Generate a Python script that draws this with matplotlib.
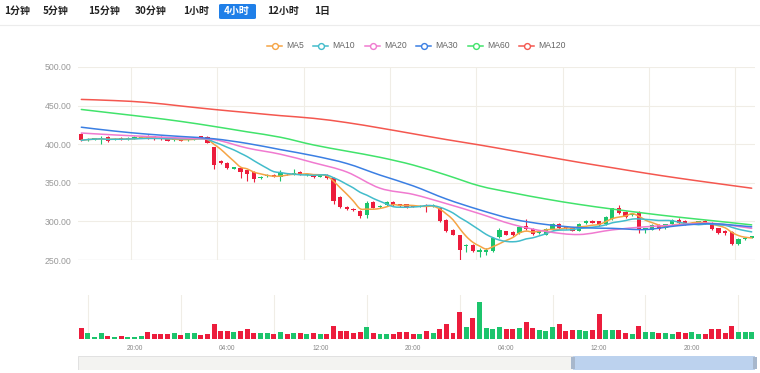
import matplotlib
matplotlib.use('Agg')
import matplotlib.pyplot as plt
import numpy as np
import pandas as pd
from matplotlib.patches import Rectangle, FancyBboxPatch, PathPatch
from matplotlib.path import Path
from matplotlib.lines import Line2D

plt.rcParams['font.family'] = ['Liberation Sans', 'DejaVu Sans']

W, H = 760, 373

# toolbar
periods = ['1分钟', '5分钟', '15分钟', '30分钟', '1小时', '4小时', '12小时', '1日']
active_period = '4小时'

# 4h candles
opens = [413, 405, 406, 407, 409.5, 405.5, 408, 407, 408, 408.5,
         411, 410, 409.5, 407.5, 405, 407.5, 405, 406.5, 410.5, 409.5,
         396, 378, 376, 368.5, 369, 366, 364, 356, 358.5, 360,
         358, 362.5, 361, 364, 360, 361.5, 358, 360.5, 356, 332,
         319, 316, 314, 308, 324.5, 318.5, 321, 325.5, 322, 322.5,
         320.5, 319, 321, 319.5, 318, 302, 289, 282, 267.5, 270,
         261, 261, 262, 280, 287, 286, 285, 294.5, 290, 285,
         283, 290, 297, 293, 292, 288, 298, 301, 300, 296,
         303, 317, 312.5, 308.5, 312, 289, 289.5, 295, 291, 296,
         302, 301, 297, 298.5, 301, 298.5, 291, 288, 286.5, 271,
         277.5, 278.5]
closes = [405, 407, 407.5, 408, 404, 407, 406.5, 408.5, 409, 409.5,
          407.5, 407, 406.5, 404.5, 407, 404.5, 407, 408.5, 408.5, 402,
          373, 375.5, 369, 370, 364, 361.5, 354.5, 358, 360.5, 358,
          362.5, 361, 363, 360.5, 361.5, 357, 360, 356, 326, 319,
          315.5, 314.5, 307, 324, 318, 320.5, 325, 321, 319.5, 318.5,
          319, 320.5, 319.5, 321, 300, 287, 283, 263, 269.5, 262,
          263, 263.5, 278, 289, 283, 282, 293, 290, 283.5, 288,
          290, 297, 291, 291, 288, 297, 301, 298.5, 295.5, 306,
          317, 311, 306, 310, 290, 291, 295, 290.5, 296, 302,
          298, 296, 298.5, 300, 298, 290, 285, 285.5, 271, 277,
          279, 280.5]
highs = [414, 408, 408, 410, 410, 408, 409, 409, 410, 410.5,
         412, 411, 410, 408, 408, 408, 408, 409, 411, 410,
         397, 379, 377, 371, 370, 367, 365, 359, 361, 361,
         366, 363, 368, 365, 362, 362, 361, 361, 357, 333,
         320, 317, 315, 327, 327, 321, 326, 326, 323, 323,
         321, 321, 322, 322, 319, 303, 290, 283, 271, 271,
         266, 265, 280, 292, 288, 287, 294, 303, 291, 289,
         291, 298, 298, 294, 293, 298, 302, 302, 301, 307,
         318, 321, 313, 311, 313, 292, 296, 296, 297, 303,
         304, 302, 299, 301, 302, 299, 292, 289, 287, 278,
         280, 281]
lows = [404, 404, 405, 400, 403, 405, 405, 406, 407, 408,
        407, 406, 405, 404, 404, 404, 404.5, 406, 408, 401,
        368, 374, 368, 368, 356, 352, 351, 355, 358, 357,
        352, 360, 360, 360, 359, 356, 357, 355, 323, 318,
        314.5, 313.5, 304, 304, 317, 318, 320, 320, 319, 318,
        318.5, 318.5, 312, 319, 299, 286, 282, 249, 261, 261,
        254, 256, 261, 279, 282, 281, 284, 289, 282.5, 284,
        282, 289, 290, 290, 287, 287, 297, 297.5, 294.5, 295,
        302, 310, 305, 307, 285, 285, 288.5, 289.5, 290, 295,
        297, 295, 296, 297.5, 297, 289, 284, 283, 270, 270,
        276.5, 278]
volumes = [1100, 600, 270, 600, 330, 270, 370, 270, 270, 370,
           770, 500, 500, 500, 600, 430, 600, 600, 430, 530,
           1500, 830, 870, 700, 870, 1030, 600, 670, 600, 530,
           700, 500, 670, 670, 500, 670, 500, 530, 1370, 870,
           830, 600, 770, 1200, 600, 500, 500, 500, 700, 700,
           500, 500, 830, 600, 1030, 1500, 670, 2700, 1200, 2100,
           3770, 1100, 1000, 1270, 1030, 1030, 1170, 1770, 1100, 930,
           870, 1200, 1500, 870, 930, 930, 870, 930, 2530, 930,
           930, 930, 600, 500, 1330, 770, 700, 600, 670, 530,
           770, 600, 700, 530, 530, 1000, 1030, 670, 1370, 700,
           700, 700]

# longer moving averages (need history outside the window) read at sample candles
ma_idx = [0, 5, 10, 15, 20, 25, 30, 35, 40, 45, 50,
          55, 60, 65, 70, 75, 80, 85, 90, 95, 101]
ma20 = [414.5, 412, 410, 408, 406, 395, 387, 376, 364, 343, 335,
        323, 310, 296, 287, 283, 289, 293, 295.5, 297.5, 291]
ma30 = [422, 417, 413, 410, 407, 401, 393, 385, 375, 360, 346,
        329, 315, 303, 296, 292, 291, 289.5, 294.5, 297, 293]
ma60 = [445, 440, 435, 429.5, 423, 416, 409, 399, 391, 383, 373,
        360, 346, 337, 329, 322, 316, 310.5, 305.5, 301, 295.5]
ma120 = [458, 456.5, 454, 449.5, 445, 441, 437, 433.5, 428, 421, 413.5,
         406, 399, 391.5, 384, 376.5, 369.5, 362.5, 356, 350, 343]

time_labels = ['20:00', '04:00', '12:00', '20:00', '04:00', '12:00', '20:00']

RED = '#ec1c3c'
GREEN = '#1cc46c'
ma_colors = {'MA5': '#f5a445', 'MA10': '#42bccb', 'MA20': '#f07ad0',
             'MA30': '#3b7fe3', 'MA60': '#41e36b', 'MA120': '#f4574f'}
GRID = '#f0ede6'

close_s = pd.Series(closes)
ma5 = close_s.rolling(5, min_periods=1).mean()
ma10 = close_s.rolling(10, min_periods=1).mean()

n = len(closes)
x = np.arange(n)
o = np.array(opens)
c = np.array(closes)
colors = np.where(c >= o, GREEN, RED)

fig = plt.figure(figsize=(W / 100, H / 100), dpi=100)


def fx(px):
    return px / W


def fy(py):
    return 1 - py / H


def smooth_line(ax, xs, ys, color):
    # cubic bezier through the points, like a smoothed chart line
    p = np.column_stack([np.asarray(xs, float), np.asarray(ys, float)])
    verts = [p[0]]
    codes = [Path.MOVETO]
    for k in range(len(p) - 1):
        p0 = p[max(k - 1, 0)]
        p1, p2 = p[k], p[k + 1]
        p3 = p[min(k + 2, len(p) - 1)]
        verts += [p1 + (p2 - p0) / 6, p2 - (p3 - p1) / 6, p2]
        codes += [Path.CURVE4] * 3
    ax.add_patch(PathPatch(Path(verts, codes), fill=False, ec=color,
                           lw=1.1, zorder=4, capstyle='round'))


# ---- toolbar
tb_x = [4, 43, 88, 135, 183, 224, 267, 314]
for label, px in zip(periods, tb_x):
    col = '#222222'
    if label == active_period:
        fig.patches.append(FancyBboxPatch((fx(219), fy(19)), fx(37), 15 / H,
                                          boxstyle='round,pad=0,rounding_size=0.003',
                                          transform=fig.transFigure,
                                          fc='#1f7fe8', ec='none'))
        col = 'white'
    fig.text(fx(px), fy(11), label, fontsize=7.2, color=col, va='center',
             ha='left', fontweight='bold',
             family=['Noto Sans CJK SC', 'DejaVu Sans'])
fig.add_artist(Line2D([0, 1], [fy(25), fy(25)], transform=fig.transFigure,
                      color='#ececec', lw=0.8))

# ---- legend
leg_x = [267, 313, 365, 416, 468, 519]
for (name, col), px in zip(ma_colors.items(), leg_x):
    fig.add_artist(Line2D([fx(px), fx(px + 15)], [fy(46), fy(46)],
                          transform=fig.transFigure, color=col, lw=1.1))
    fig.add_artist(Line2D([fx(px + 7.5)], [fy(46)], transform=fig.transFigure,
                          color=col, marker='o', ms=4.2, mfc='white', mew=1.0))
    fig.text(fx(px + 19), fy(46), name, fontsize=6.2, color='#666666',
             va='center', ha='left')

# ---- price chart
ax = fig.add_axes([fx(78), fy(260), fx(755 - 78), (260 - 67) / H])
ax.set_xlim(-0.5, n - 0.5)
ax.set_ylim(250, 500)
for s in ax.spines.values():
    s.set_visible(False)
for yv in [300, 350, 400, 450, 500]:
    ax.axhline(yv, color=GRID, lw=0.8, zorder=0)
ax.axhline(250, color='#dcdcdc', lw=0.9, zorder=0)
for xv in np.arange(7.5, n, 13):
    ax.axvline(xv, color=GRID, lw=0.8, zorder=0)

body_lo = np.minimum(o, c)
body_h = np.maximum(np.abs(c - o), 0.9)
ax.vlines(x, lows, highs, colors=colors, lw=0.8, zorder=2)
ax.bar(x, body_h, bottom=body_lo, width=0.64, color=colors, zorder=3)

smooth_line(ax, x, ma5, ma_colors['MA5'])
smooth_line(ax, x, ma10, ma_colors['MA10'])
smooth_line(ax, ma_idx, ma20, ma_colors['MA20'])
smooth_line(ax, ma_idx, ma30, ma_colors['MA30'])
smooth_line(ax, ma_idx, ma60, ma_colors['MA60'])
smooth_line(ax, ma_idx, ma120, ma_colors['MA120'])

ax.set_xticks([])
ax.set_yticks([250, 300, 350, 400, 450, 500])
ax.set_yticklabels(['%.2f' % v for v in [250, 300, 350, 400, 450, 500]])
ax.tick_params(axis='y', length=0, pad=4.5, labelsize=6.3, labelcolor='#999999')

# ---- volume chart
axv = fig.add_axes([fx(78), fy(339.3), fx(755 - 78), (339.3 - 295) / H])
axv.set_xlim(-0.5, n - 0.5)
axv.set_ylim(0, 4420)
for s in axv.spines.values():
    s.set_visible(False)
for xv in np.arange(1, n, 14):
    axv.axvline(xv, color=GRID, lw=0.8, zorder=0)
axv.bar(x, volumes, width=0.75, color=colors, zorder=2)
axv.set_yticks([])
axv.set_xticks(np.arange(8, n, 14)[:len(time_labels)])
axv.set_xticklabels(time_labels)
axv.tick_params(axis='x', length=0, pad=4, labelsize=4.8, labelcolor='#888888')

# ---- data zoom slider
axs = fig.add_axes([fx(78), fy(370), fx(755 - 78), 14 / H])
axs.set_xlim(0, 1)
axs.set_ylim(0, 1)
axs.axis('off')
axs.add_patch(Rectangle((0, 0), 1, 1, fc='#f3f3f1', ec='#dddddd', lw=0.6))
axs.add_patch(Rectangle((0.731, 0), 0.269, 1, fc='#bcd2ee', ec='none'))
for hx in [0.731, 1.0]:
    axs.add_patch(Rectangle((hx - 0.003, 0.05), 0.006, 0.9, fc='#a7b7cc',
                            ec='none', clip_on=False))

fig.savefig('out.png', dpi=100)
